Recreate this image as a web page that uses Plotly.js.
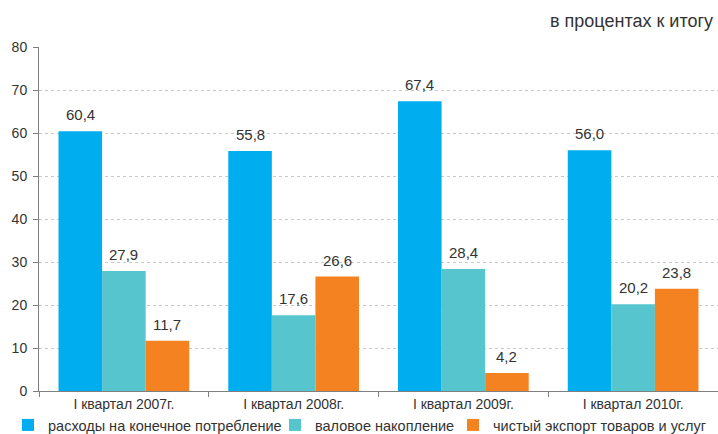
<!DOCTYPE html>
<html>
<head>
<meta charset="utf-8">
<script src="https://cdn.plot.ly/plotly-3.0.1.min.js"></script>
<style>html,body{margin:0;padding:0;background:#fff;}#chart{width:718px;height:434px;}</style>
</head>
<body>
<div id="chart"></div>
<script>
const categories = ['I квартал 2007г.', 'I квартал 2008г.', 'I квартал 2009г.', 'I квартал 2010г.'];
const seriesNames = ['расходы на конечное потребление', 'валовое накопление', 'чистый экспорт товаров и услуг'];
const consumption = [60.4, 55.8, 67.4, 56.0];
const accumulation = [27.9, 17.6, 28.4, 20.2];
const netExport = [11.7, 26.6, 4.2, 23.8];
const yTicks = [0, 10, 20, 30, 40, 50, 60, 70, 80];
const unitLabel = 'в процентах к итогу';

const colors = ['#00ADEF', '#56C5CD', '#F58221'];
const series = [consumption, accumulation, netExport];
const fontFamily = '"Liberation Sans", Arial, sans-serif';
const textColor = '#333333';

const W = 718, H = 434;
const margin = {l: 39, r: 0, t: 46.5, b: 43};
const plotW = W - margin.l - margin.r;
const plotH = H - margin.t - margin.b;
const bargap = 0.23;
const catW = plotW / categories.length;
const barW = catW * (1 - bargap) / series.length;

const fmt = v => v.toFixed(1).replace('.', ',');

const legendNames = ['legend', 'legend2', 'legend3'];
const traces = series.map((vals, i) => ({
  type: 'bar',
  name: seriesNames[i],
  x: categories,
  y: vals,
  marker: {color: colors[i]},
  legend: legendNames[i],
  hoverinfo: 'none'
}));

const annotations = [];
series.forEach((vals, i) => {
  vals.forEach((v, j) => {
    annotations.push({
      x: categories[j], y: v, xref: 'x', yref: 'y',
      text: fmt(v), showarrow: false,
      xanchor: 'center', yanchor: 'bottom',
      xshift: (i - 1) * barW, yshift: 6,
      font: {family: fontFamily, size: 15, color: textColor}
    });
  });
});
annotations.push({
  xref: 'paper', yref: 'paper',
  x: (715 - margin.l) / plotW, y: (H - margin.b - 20) / plotH,
  xanchor: 'right', yanchor: 'middle', showarrow: false,
  text: unitLabel,
  font: {family: fontFamily, size: 18, color: textColor}
});

const legendX = [8, 275, 453];
const legendBase = {
  orientation: 'h', xref: 'container', yref: 'container',
  xanchor: 'left', yanchor: 'middle', y: 1 - 425 / H,
  font: {family: fontFamily, size: 14.5, color: textColor},
  bgcolor: 'rgba(0,0,0,0)', itemwidth: 30, itemclick: false, itemdoubleclick: false
};
const layout = {
  width: W, height: H,
  margin: margin,
  paper_bgcolor: '#fff', plot_bgcolor: '#fff',
  barmode: 'group', bargap: bargap, bargroupgap: 0,
  showlegend: true,
  font: {family: fontFamily, size: 14, color: textColor},
  xaxis: {
    type: 'category',
    showline: true, linecolor: '#7f7f7f', linewidth: 1,
    ticks: 'outside', tickson: 'boundaries', ticklen: 5, tickcolor: '#7f7f7f',
    tickfont: {family: fontFamily, size: 14, color: textColor},
    showgrid: false, zeroline: false, fixedrange: true
  },
  yaxis: {
    range: [0, 80], tickvals: yTicks, ticktext: yTicks.map(String),
    showline: true, linecolor: '#7f7f7f', linewidth: 1,
    ticks: 'outside', ticklen: 5, tickcolor: '#7f7f7f',
    tickfont: {family: fontFamily, size: 14, color: textColor},
    showgrid: true, gridcolor: '#c8c8c8', griddash: 'dot', gridwidth: 1,
    zeroline: false, fixedrange: true, ticklabelstandoff: 3
  },
  annotations: annotations
};
legendNames.forEach((ln, i) => {
  layout[ln] = Object.assign({}, legendBase, {x: legendX[i] / W});
});

Plotly.newPlot('chart', traces, layout, {displayModeBar: false, staticPlot: true});
</script>
</body>
</html>
